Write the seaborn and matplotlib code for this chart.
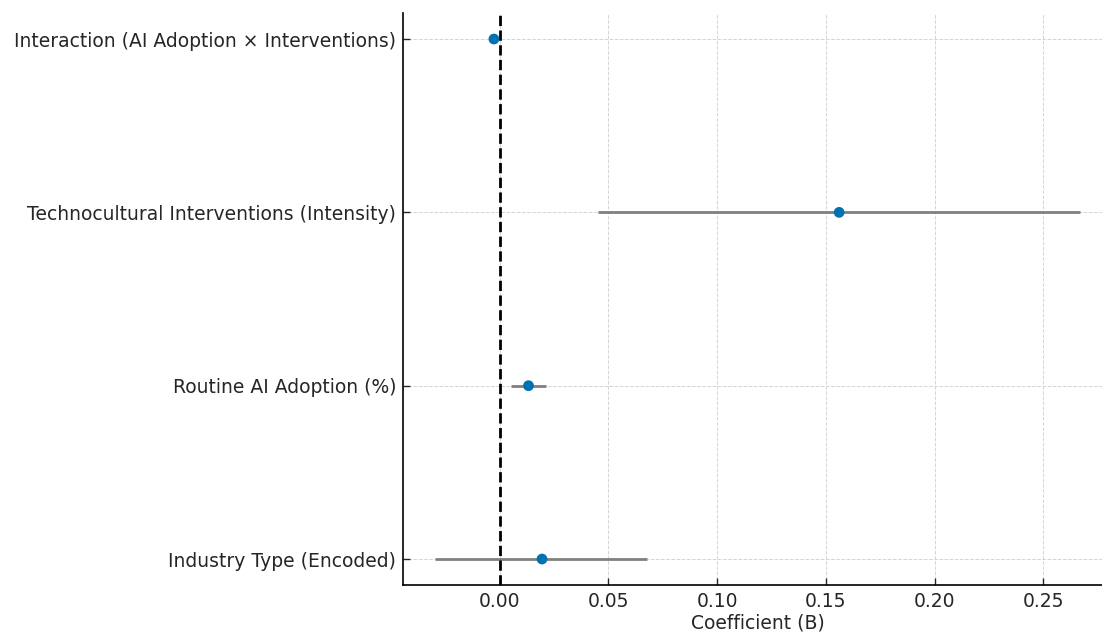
import matplotlib
matplotlib.use("Agg")
import matplotlib.pyplot as plt
import numpy as np
import pandas as pd
import seaborn as sns

# Regression coefficients with 95% CI (top to bottom)
predictors = [
    "Interaction (AI Adoption × Interventions)",
    "Technocultural Interventions (Intensity)",
    "Routine AI Adoption (%)",
    "Industry Type (Encoded)",
]
coef = [-0.0026, 0.1561, 0.0133, 0.0195]
ci_low = [-0.0030, 0.0453, 0.0054, -0.0296]
ci_high = [-0.0022, 0.2668, 0.0212, 0.0679]

df = pd.DataFrame({"predictor": predictors, "coef": coef,
                   "lo": ci_low, "hi": ci_high})
df["ypos"] = np.arange(len(df))[::-1]

sns.set_theme(style="whitegrid", rc={
    "grid.linestyle": "--",
    "grid.color": "#d4d4d4",
    "grid.linewidth": 0.7,
    "axes.edgecolor": "black",
    "text.color": "#262626",
    "xtick.color": "#262626",
    "ytick.color": "#262626",
    "axes.labelcolor": "#262626",
})
plt.rcParams["font.family"] = ["DejaVu Sans"]

fig = plt.figure(figsize=(11.02, 6.35), dpi=100)
ax = fig.add_axes([0.3657, 0.0787, 0.6439, 0.9008])

ax.hlines(df["ypos"], df["lo"], df["hi"], color="#808080", lw=2, zorder=2)
sns.scatterplot(data=df, x="coef", y="ypos", color="#0072B2", s=60,
                edgecolor="none", zorder=3, ax=ax)
ax.axvline(0, color="black", ls="--", lw=2, zorder=4)

ax.set_yticks(df["ypos"])
ax.set_yticklabels(df["predictor"])
ax.set_ylim(-0.15, 3.15)
ax.set_xlim(-0.0444, 0.2818)
ax.set_xticks([0.0, 0.05, 0.10, 0.15, 0.20, 0.25])
ax.set_xticklabels(["0.00", "0.05", "0.10", "0.15", "0.20", "0.25"])
ax.set_xlabel("Coefficient (B)", fontsize=13.5, labelpad=2)
ax.set_ylabel("")
ax.tick_params(axis="both", labelsize=13.5, direction="in", length=5,
               width=1, left=True, bottom=True, pad=5)
sns.despine(ax=ax)
for s in ("left", "bottom"):
    ax.spines[s].set_linewidth(1.2)

fig.savefig("out.png", dpi=100)
